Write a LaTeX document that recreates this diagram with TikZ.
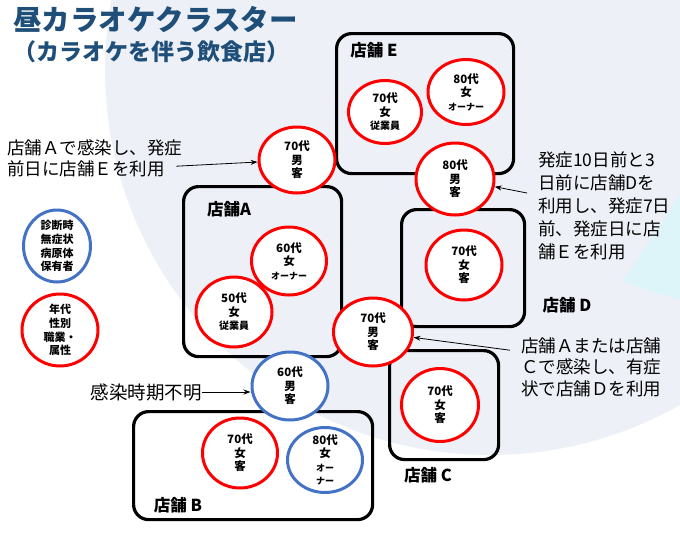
\documentclass[tikz,border=0pt]{standalone}
\usepackage{fontspec}
\setmainfont{Noto Sans CJK JP}
\usetikzlibrary{shapes.geometric,arrows.meta,positioning}

\definecolor{titleblue}{HTML}{1F4E79}
\definecolor{pblue}{HTML}{4472C4}
\definecolor{pred}{HTML}{FF0000}
\definecolor{bgshade}{HTML}{EDF1F7}
\definecolor{bgcyan}{HTML}{DDF4F8}

\tikzset{
  shop/.style={draw, line width=3.2pt, rounded corners=15pt, anchor=north west, inner sep=0pt},
  shoplabel/.style={font=\bfseries\fontsize{16.5}{18}\selectfont, inner sep=0pt},
  redp/.style={ellipse, draw=pred, line width=3pt, fill=white, inner sep=-8pt, align=center,
    font=\bfseries\fontsize{11.5}{13.5}\selectfont},
  bluep/.style={redp, draw=pblue},
  note/.style={font=\fontsize{17.5}{21.5}\selectfont, inner sep=0pt},
  pt/.style={-{Stealth[length=7pt,width=5pt]}, line width=0.8pt}
}

\begin{document}
\begin{tikzpicture}[x=1pt,y=-1pt]
  \useasboundingbox (0,0) rectangle (680,538);
  % background
  \fill[white] (0,0) rectangle (680,538);
  \begin{scope}
    \clip (0,0) rectangle (680,538);
    \fill[bgshade] (490,70) circle (385pt);
  \end{scope}
  \fill[bgcyan] (622,282) -- (680,195) -- (680,300) -- cycle;

  % title
  \node[anchor=west, inner sep=0pt, text=titleblue, font=\bfseries\fontsize{28.5}{30}\selectfont] (title) at (13,19) {昼カラオケクラスター};
  \node[anchor=west, inner sep=0pt, text=titleblue, font=\bfseries\fontsize{23}{25}\selectfont] (subtitle) at (13,52) {（カラオケを伴う飲食店）};

  % shops
  \node[shop, minimum width=177pt, minimum height=140pt] (shopE) at (335,32) {};
  \node[shop, minimum width=158pt, minimum height=170pt] (shopA) at (182,185) {};
  \node[shop, minimum width=123pt, minimum height=117pt] (shopD) at (400,208) {};
  \node[shop, minimum width=109pt, minimum height=109pt] (shopC) at (388,349) {};
  \node[shop, minimum width=239pt, minimum height=108pt] (shopB) at (132,410) {};
  \node[shoplabel] (labE) at (374,50) {店舗 E};
  \node[shoplabel] (labA) at (229,209) {店舗A};
  \node[shoplabel] (labD) at (567,305) {店舗 D};
  \node[shoplabel] (labC) at (428,475) {店舗 C};
  \node[shoplabel] (labB) at (178,505) {店舗 B};

  % patients
  \node[redp, minimum width=73pt, minimum height=63pt] (eStaff) at (385,112) {70代\\女\\{\fontsize{10}{13.5}\selectfont 従業員}};
  \node[redp, minimum width=76pt, minimum height=65pt] (eOwner) at (466,92) {80代\\女\\{\fontsize{9}{13.5}\selectfont オーナー}};
  \node[redp, minimum width=78pt, minimum height=72pt] (eGuest) at (455,179) {80代\\男\\客};
  \node[redp, minimum width=76pt, minimum height=66pt] (aGuest) at (297,160) {70代\\男\\客};
  \node[redp, minimum width=75pt, minimum height=68pt] (aOwner) at (289,261) {60代\\女\\{\fontsize{9}{13.5}\selectfont オーナー}};
  \node[redp, minimum width=76pt, minimum height=70pt] (aStaff) at (234,312) {50代\\女\\{\fontsize{10}{13.5}\selectfont 従業員}};
  \node[redp, minimum width=79pt, minimum height=68pt] (dGuest) at (373,332) {70代\\男\\客};
  \node[redp, minimum width=76pt, minimum height=70pt] (dWoman) at (464,265) {70代\\女\\客};
  \node[redp, minimum width=77pt, minimum height=73pt] (cWoman) at (440,405) {70代\\女\\客};
  \node[bluep, minimum width=76pt, minimum height=68pt] (bGuest) at (290,386) {60代\\男\\客};
  \node[redp, minimum width=75pt, minimum height=70pt] (bWoman) at (240,453) {70代\\女\\客};
  \node[bluep, minimum width=75pt, minimum height=65pt] (bOwner) at (325,460) {80代\\女\\{\fontsize{9}{13}\selectfont オー}\\{\fontsize{9}{13}\selectfont ナー}};

  % legend
  \node[bluep, minimum width=67pt, minimum height=72pt, font=\bfseries\fontsize{11}{13.8}\selectfont] (keyBlue) at (57,246) {診断時\\無症状\\病原体\\保有者};
  \node[redp, minimum width=76pt, minimum height=72pt, font=\bfseries\fontsize{11}{13.8}\selectfont] (keyRed) at (60,330) {年代\\性別\\職業・\\属性};

  % notes
  \node[note, anchor=north west, align=left] (noteA) at (7,139) {店舗Ａで感染し、発症\\前日に店舗Ｅを利用};
  \node[note, anchor=north west, align=left, font=\fontsize{17.5}{23}\selectfont] (noteE) at (538,152) {発症10日前と3\\日前に店舗Dを\\利用し、発症7日\\前、発症日に店\\舗Ｅを利用};
  \node[note, align=center] (noteD) at (591,367) {店舗Ａまたは店舗\\Ｃで感染し、有症\\状で店舗Ｄを利用};
  \node[note, anchor=east, font=\fontsize{18.5}{21}\selectfont] (noteU) at (202,392) {感染時期不明};
  \draw[pt] ([xshift=-6pt,yshift=11pt]noteA.south east) -- (aGuest);
  \draw[pt] ([xshift=-11pt,yshift=-41pt]noteE.north west) -- (eGuest);
  \draw[pt] ([xshift=-11pt,yshift=-13pt]noteD.north west) -- (dGuest);
  \draw[pt] (noteU.east) -- (noteU.east -| bGuest.west);
\end{tikzpicture}
\end{document}
